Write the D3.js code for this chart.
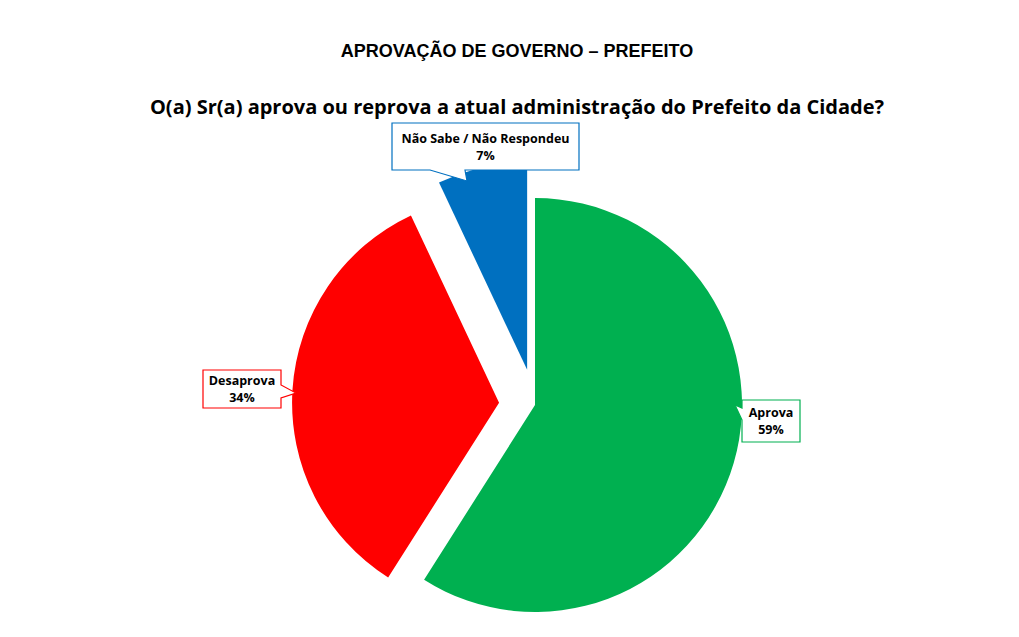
<!DOCTYPE html>
<html><head><meta charset="utf-8">
<script src="https://cdn.jsdelivr.net/npm/d3@7"></script>
<style>body{margin:0;background:#fff;font-family:"Liberation Sans",Arial,sans-serif}</style>
</head><body><div id="chart"></div>
<script>
const categories = ["Aprova", "Desaprova", "Não Sabe / Não Respondeu"];
const values = [59, 34, 7];
const colors = ["#00B050", "#FF0000", "#0070C0"];
const exploded = [0, 36, 36];

const width = 1019, height = 637;
const svg = d3.select("#chart").append("svg").attr("width", width).attr("height", height);

svg.append("text").attr("x", 517).attr("y", 57).attr("text-anchor", "middle")
  .style("font-weight", "bold").style("font-size", "18px")
  .text("APROVAÇÃO DE GOVERNO – PREFEITO");
svg.append("text").attr("x", 517).attr("y", 114).attr("text-anchor", "middle")
  .style("font-weight", "bold").style("font-size", "20px").style("font-family", "Open Sans, sans-serif")
  .text("O(a) Sr(a) aprova ou reprova a atual administração do Prefeito da Cidade?");

const cx = 535, cy = 405, r = 207;
const pie = d3.pie().sort(null).value(d => d)(values);
const arc = d3.arc().innerRadius(0).outerRadius(r);
const g = svg.append("g").attr("transform", `translate(${cx},${cy})`);
g.selectAll("path").data(pie).join("path")
  .attr("d", arc)
  .attr("fill", (d, i) => colors[i])
  .attr("transform", (d, i) => {
    const a = (d.startAngle + d.endAngle) / 2;
    return `translate(${Math.sin(a) * exploded[i]},${-Math.cos(a) * exploded[i]})`;
  });

// callout boxes: [x, y, w, h, pointer tip, pointer base]
const callouts = [
  { x: 742, y: 400, w: 58, h: 42, tip: [735, 405], base: [[742, 408], [742, 420]] },
  { x: 203, y: 370, w: 78, h: 38, tip: [296, 393], base: [[281, 385], [281, 398]] },
  { x: 392, y: 123, w: 187, h: 47, tip: [467, 181], base: [[430, 170], [465, 170]] }
];
callouts.forEach((c, i) => {
  const b = c.base;
  const pts = [[c.x, c.y], [c.x + c.w, c.y], [c.x + c.w, c.y + c.h]];
  let path;
  if (i === 2) path = [...pts, b[1], c.tip, b[0], [c.x, c.y + c.h]];
  else if (i === 1) path = [[c.x, c.y], [c.x + c.w, c.y], b[0], c.tip, b[1], [c.x + c.w, c.y + c.h], [c.x, c.y + c.h]];
  else path = [[c.x, c.y], [c.x + c.w, c.y], [c.x + c.w, c.y + c.h], [c.x, c.y + c.h], b[1], c.tip, b[0]];
  svg.append("path").attr("d", d3.line()(path) + "Z")
    .attr("fill", "#fff").attr("stroke", colors[i]).attr("stroke-width", 1.2);
  const t = svg.append("text").attr("text-anchor", "middle")
    .style("font-weight", "bold").style("font-size", "12.5px").style("font-family", "Open Sans, sans-serif");
  t.append("tspan").attr("x", c.x + c.w / 2).attr("y", c.y + c.h / 2 - 4).text(categories[i]);
  t.append("tspan").attr("x", c.x + c.w / 2).attr("y", c.y + c.h / 2 + 13).text(values[i] + "%");
});
</script></body></html>
